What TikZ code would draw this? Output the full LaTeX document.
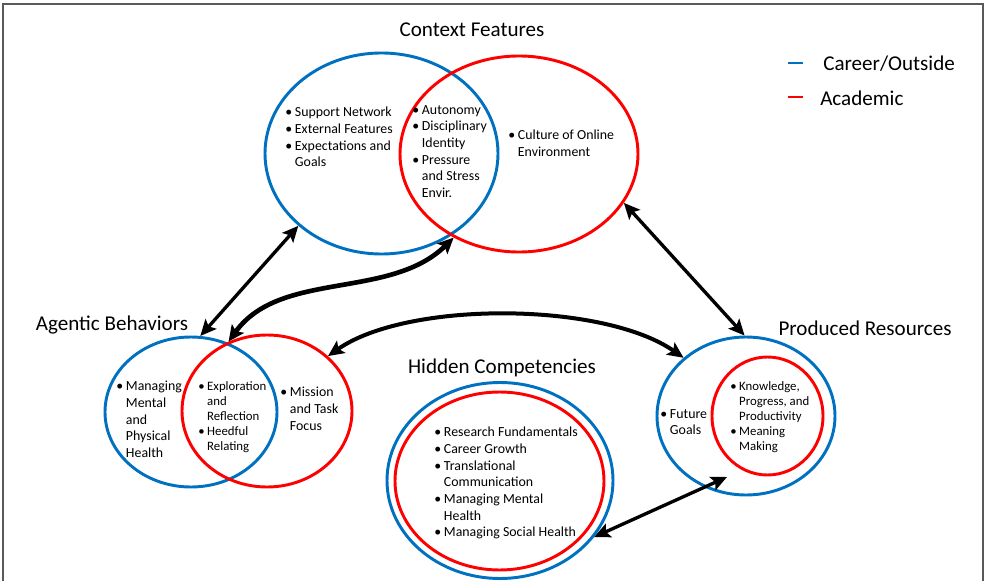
\documentclass[tikz,border=0pt]{standalone}
\usepackage{fontspec}
\setmainfont{Carlito}
\usepackage{xcolor}
\usepackage{tikz}
\usetikzlibrary{arrows.meta,positioning,shapes.geometric}
\definecolor{careerblue}{RGB}{0,112,192}
\definecolor{acadred}{RGB}{255,0,0}
\newcommand{\bul}{\makebox[0.7em][l]{\textbullet}}
\newcommand{\hang}{\hspace*{0.7em}}

\begin{document}
\begin{tikzpicture}[x=0.75pt,y=-0.75pt,>={Stealth[length=12pt,width=11pt,inset=2.5pt]}]
\tikzstyle{career}=[draw=careerblue, line width=2.2pt, ellipse, inner sep=0pt]
\tikzstyle{acad}=[draw=acadred, line width=2.2pt, ellipse, inner sep=0pt]
\tikzstyle{heading}=[font=\fontsize{15.8}{18}\selectfont, inner sep=0pt]
\tikzstyle{items}=[align=left, anchor=north west, inner sep=0pt, font=\fontsize{10.4}{12.5}\selectfont]
\tikzstyle{smallitems}=[items, font=\fontsize{9.6}{11.25}\selectfont]
\tikzstyle{link}=[<->, line width=2.5pt]
\useasboundingbox (0,0) rectangle (986,581);
\draw[black!65, line width=1.5pt] (3,581) -- (3,4) -- (983,4) -- (983,581);
% context features
\node[career, minimum width=174.75pt, minimum height=150.75pt] (ctxcareer) at (381.5,153.5) {};
\node[acad, minimum width=178.5pt, minimum height=147pt] (ctxacad) at (519,154) {};
\node[heading] (ctxtitle) at (472,30) {Context Features};
\node[items] (ctxleft) at (285,107) {\bul Support Network\\\bul External Features\\\bul Expectations and\\\hang Goals};
\node[items] (ctxmid) at (412,105) {\bul Autonomy\\\bul Disciplinary\\\hang Identity\\\bul Pressure\\\hang and Stress\\\hang Envir.};
\node[items] (ctxright) at (508,130) {\bul Culture of Online\\\hang Environment};
% agentic behaviors
\node[career, minimum width=129pt, minimum height=112.5pt] (agcareer) at (191,412) {};
\node[acad, minimum width=127.5pt, minimum height=114pt] (agacad) at (267,411) {};
\node[heading] (agtitle) at (112,325) {Agentic Behaviors};
\node[items] (agleft) at (116,381) {\bul Managing\\\hang Mental\\\hang and\\\hang Physical\\\hang Health};
\node[smallitems] (agmid) at (198,381) {\bul Exploration\\\hang and\\\hang Reflection\\\bul Heedful\\\hang Relating};
\node[items] (agright) at (280,387) {\bul Mission\\\hang and Task\\\hang Focus};
% hidden competencies
\node[career, minimum width=169.5pt, minimum height=147pt] (hidcareer) at (500,480.5) {};
\node[acad, minimum width=156.75pt, minimum height=133.5pt] (hidacad) at (499.5,481) {};
\node[heading] (hidtitle) at (502,368) {Hidden Competencies};
\node[items] (hiditems) at (434,427) {\bul Research Fundamentals\\\bul Career Growth\\\bul Translational\\\hang Communication\\\bul Managing Mental\\\hang Health\\\bul Managing Social Health};
% produced resources
\node[career, minimum width=133.5pt, minimum height=118.5pt] (prodcareer) at (746,416) {};
\node[acad, minimum width=83.25pt, minimum height=88.5pt] (prodacad) at (767.5,416) {};
\node[heading] (prodtitle) at (865,328) {Produced Resources};
\node[items] (prodleft) at (660,409) {\bul Future\\\hang Goals};
\node[smallitems] (prodright) at (730,381) {\bul Knowledge,\\\hang Progress, and\\\hang Productivity\\\bul Meaning\\\hang Making};
% legend
\node[heading, anchor=west] (legcareer) at (823,64) {Career/Outside};
\node[heading, anchor=west] (legacad) at (820,98) {Academic};
\draw[careerblue, line width=2.2pt] (788,63) -- (803,63);
\draw[acadred, line width=2.2pt] (788,97) -- (803,97);
% links
\coordinate (prodtip) at (727,477);
\draw[link] (agcareer.83) -- (ctxcareer.221);
\draw[link, line width=3.5pt] (agacad.119) .. controls (280,270) and (390,300) .. (ctxacad.232);
\draw[link, line width=3pt] (agacad.42) to[out=35,in=145,looseness=0.7] (prodcareer.137);
\draw[link] (ctxacad.335) -- (prodcareer.91);
\draw[link] (hidcareer.329) -- (prodtip);
\end{tikzpicture}
\end{document}
